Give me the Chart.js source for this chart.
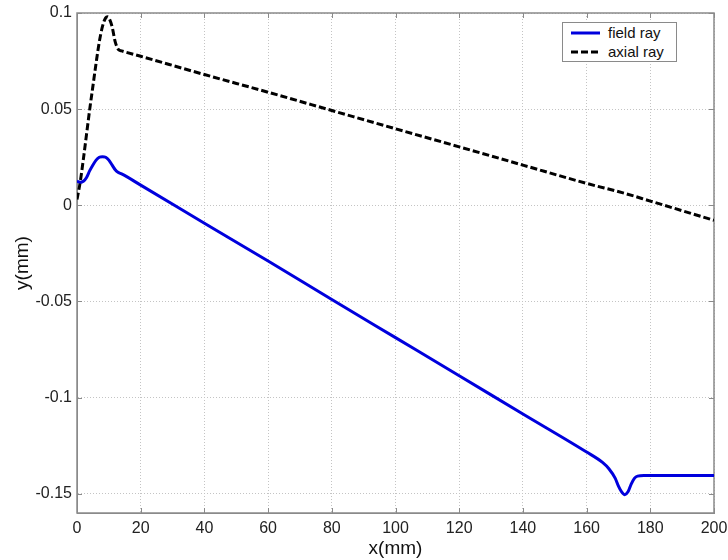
<!DOCTYPE html>
<html>
<head>
<meta charset="utf-8">
<title>field ray / axial ray</title>
<script src="https://cdn.jsdelivr.net/npm/chart.js@4.4.1/dist/chart.umd.min.js"></script>
<style>
    body { margin: 0; background: #fff; }
    #wrap { position: relative; width: 728px; height: 560px; }
    #legend {
        position: absolute; left: 562px; top: 22px; width: 113px; height: 38px;
        border: 1px solid #8a8a8a; background: #fff;
        font-family: "Liberation Sans", Arial, sans-serif; font-size: 15px; color: #111;
    }
    .row { position: absolute; left: 0; width: 113px; height: 18px; line-height: 18px; }
    .row svg { position: absolute; left: 8px; top: 7px; }
    .row span { position: absolute; left: 45px; white-space: nowrap; }
</style>
</head>
<body>
<div id="wrap">
    <canvas id="rayChart" width="728" height="560"></canvas>
    <div id="legend">
        <div class="row" style="top:1px">
            <svg width="30" height="4"><line x1="0" y1="2" x2="29" y2="2" stroke="#0000dd" stroke-width="3"/></svg>
            <span>field ray</span>
        </div>
        <div class="row" style="top:20px">
            <svg width="30" height="4"><line x1="0" y1="2" x2="29" y2="2" stroke="#000" stroke-width="3" stroke-dasharray="7,3"/></svg>
            <span>axial ray</span>
        </div>
    </div>
</div>
<script>
// values
const fieldX = [0, 1, 2, 3, 4, 5, 6, 7, 8, 9, 10, 11, 12, 13, 14, 20, 40, 60, 80, 100, 120, 140, 160, 165, 167, 169, 170, 171, 172, 173, 174, 175, 176, 178, 200];
const fieldY = [0.0125, 0.012, 0.0125, 0.0145, 0.018, 0.021, 0.0235, 0.025, 0.0253, 0.025, 0.0235, 0.021, 0.0185, 0.017, 0.0163, 0.0105, -0.0093, -0.029, -0.049, -0.0688, -0.0886, -0.1085, -0.1283, -0.1337, -0.137, -0.142, -0.146, -0.149, -0.1505, -0.149, -0.145, -0.142, -0.1408, -0.1405, -0.1405];

const axialX = [0, 1, 2, 3, 4, 5, 6, 7, 8, 9, 9.6, 10, 11, 12, 13, 14, 20, 40, 60, 80, 100, 120, 140, 160, 172, 180, 200];
const axialY = [0.003, 0.012, 0.024, 0.037, 0.05, 0.062, 0.074, 0.085, 0.093, 0.0975, 0.098, 0.0975, 0.093, 0.085, 0.081, 0.0803, 0.0775, 0.068, 0.0588, 0.0493, 0.0398, 0.0304, 0.0209, 0.0114, 0.0062, 0.0022, -0.0078];

const xTicks = [0, 20, 40, 60, 80, 100, 120, 140, 160, 180, 200];
const yTicks = [-0.15, -0.1, -0.05, 0, 0.05, 0.1];
const yTickLabels = ["-0.15", "-0.1", "-0.05", "0", "0.05", "0.1"];

Chart.defaults.font.family = '"Liberation Sans", Arial, sans-serif';

const toPoints = (xs, ys) => xs.map((x, i) => ({ x: x, y: ys[i] }));

// matlab style box with inward ticks
const frame = {
    id: "frame",
    beforeDatasetsDraw(chart) {
        const { ctx, chartArea: a, scales } = chart;
        ctx.save();
        ctx.strokeStyle = "#8a8a8a";
        ctx.lineWidth = 1;
        ctx.beginPath();
        xTicks.forEach((v) => {
            const px = Math.round(scales.x.getPixelForValue(v)) + 0.5;
            ctx.moveTo(px, a.bottom); ctx.lineTo(px, a.bottom - 5);
            ctx.moveTo(px, a.top); ctx.lineTo(px, a.top + 5);
        });
        yTicks.forEach((v) => {
            const py = Math.round(scales.y.getPixelForValue(v)) + 0.5;
            ctx.moveTo(a.left, py); ctx.lineTo(a.left + 5, py);
            ctx.moveTo(a.right, py); ctx.lineTo(a.right - 5, py);
        });
        ctx.stroke();
        ctx.lineWidth = 1.5;
        ctx.strokeRect(a.left, a.top, a.right - a.left, a.bottom - a.top);
        ctx.restore();
    }
};

new Chart(document.getElementById("rayChart"), {
    type: "scatter",
    data: {
        datasets: [
            {
                label: "field ray",
                data: toPoints(fieldX, fieldY),
                showLine: true,
                borderColor: "#0000dd",
                borderWidth: 3,
                pointRadius: 0,
                cubicInterpolationMode: "monotone",
            },
            {
                label: "axial ray",
                data: toPoints(axialX, axialY),
                showLine: true,
                borderColor: "#000",
                borderWidth: 3,
                borderDash: [7, 3],
                pointRadius: 0,
                cubicInterpolationMode: "monotone",
            },
        ],
    },
    options: {
        responsive: false,
        animation: false,
        layout: { padding: { top: 13, right: 14, left: 0, bottom: 0 } },
        plugins: { legend: { display: false }, tooltip: { enabled: false } },
        scales: {
            x: {
                type: "linear",
                min: 0,
                max: 200,
                afterBuildTicks: (s) => { s.ticks = xTicks.map((v) => ({ value: v })); },
                afterFit: (s) => { s.height = 47; s.paddingLeft = 0; s.paddingRight = 0; },
                ticks: { padding: 6, color: "#222", font: { size: 16 }, maxRotation: 0, autoSkip: false },
                grid: { color: "#c4c4c4", drawTicks: false },
                border: { display: true, color: "#8a8a8a", dash: [1, 2] },
                title: { display: true, text: "x(mm)", color: "#111", font: { size: 19 }, padding: { top: 1, bottom: 0 } },
            },
            y: {
                type: "linear",
                min: -0.16,
                max: 0.1,
                afterBuildTicks: (s) => { s.ticks = yTicks.map((v) => ({ value: v })); },
                afterFit: (s) => { s.width = 77; s.paddingTop = 0; s.paddingBottom = 0; },
                ticks: {
                    padding: 5,
                    color: "#222",
                    font: { size: 16 },
                    callback: (v, i) => yTickLabels[i],
                },
                grid: { color: "#c4c4c4", drawTicks: false },
                border: { display: true, color: "#8a8a8a", dash: [1, 2] },
                title: { display: true, text: "y(mm)", color: "#111", font: { size: 19 }, padding: { top: 11, bottom: 0 } },
            },
        },
    },
    plugins: [frame],
});
</script>
</body>
</html>
